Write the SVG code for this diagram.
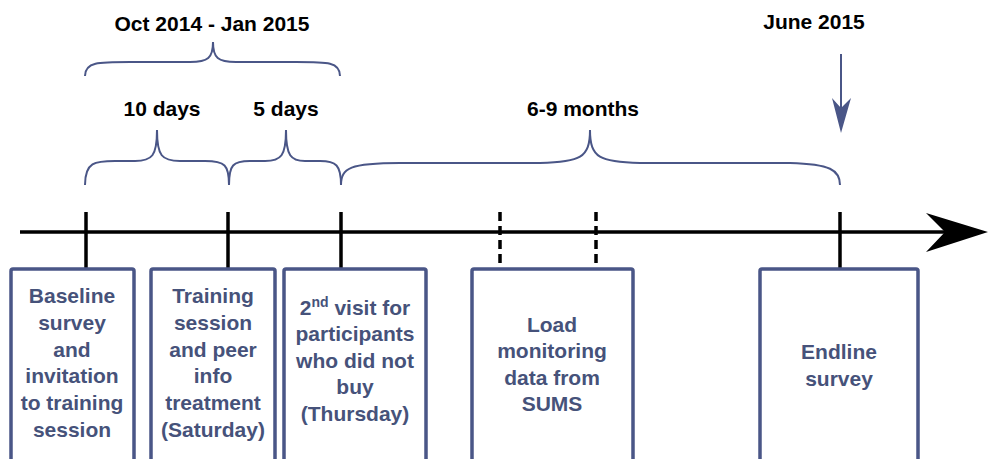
<svg xmlns="http://www.w3.org/2000/svg" width="988" height="459" viewBox="0 0 988 459">
  <style>
    .lbl { font-family: "Liberation Sans", Arial, sans-serif; font-weight: bold; font-size: 21px; fill: #000; text-anchor: middle; }
    .txt { font-family: "Liberation Sans", Arial, sans-serif; font-weight: bold; font-size: 21px; fill: #46527a; text-anchor: middle; }
    .box { fill: #fff; stroke: #4a5687; stroke-width: 3.5; }
    .brace { fill: none; stroke: #4a5687; stroke-width: 2; }
    .tick { stroke: #000; stroke-width: 3.5; }
    .dash { stroke: #000; stroke-width: 3.5; stroke-dasharray: 9 5; }
  </style>
  <rect width="988" height="459" fill="#fff"/>

  <!-- period labels -->
  <g id="labels">
    <text class="lbl" x="212" y="31">Oct 2014 - Jan 2015</text>
    <text class="lbl" x="162" y="116">10 days</text>
    <text class="lbl" x="286" y="116">5 days</text>
    <text class="lbl" x="583" y="116">6-9 months</text>
    <text class="lbl" x="814" y="29">June 2015</text>
  </g>

  <!-- braces, time axis, ticks and arrow -->
  <g id="connectors">
    <path class="brace" d="M85 76 C85 62 98 62 130 62 L190 62 C208 62 213 58 213 42 C213 58 218 62 236 62 L296 62 C328 62 340 62 340 76"/>
    <path class="brace" d="M85 185 C85 162 95 161 115 161 L135 161 C152 161 157 156 157 130 C157 156 162 161 180 161 L205 161 C225 161 229 165 229 185"/>
    <path class="brace" d="M229 185 C229 165 233 161 250 161 L265 161 C281 161 286 156 286 130 C286 156 291 161 305 161 L320 161 C336 161 341 165 341 185"/>
    <path class="brace" d="M341 185 C341 168 350 163 400 163 L540 163 C580 162 590 158 590 130 C590 158 600 162 640 163 L790 163 C830 164 840 170 840 185"/>

    <line x1="20" y1="232" x2="950" y2="232" stroke="#000" stroke-width="3.5"/>
    <path d="M988 232 L926 213 L945 232 L926 252 Z" fill="#000"/>

    <line class="tick" x1="86" y1="212" x2="86" y2="269"/>
    <line class="tick" x1="228" y1="212" x2="228" y2="269"/>
    <line class="tick" x1="341" y1="212" x2="341" y2="269"/>
    <line class="tick" x1="840" y1="212" x2="840" y2="269"/>
    <line class="dash" x1="500" y1="212" x2="500" y2="269"/>
    <line class="dash" x1="596" y1="212" x2="596" y2="269"/>

    <line x1="841" y1="54" x2="841" y2="108" stroke="#4a5687" stroke-width="2"/>
    <path d="M841 133 L832 98 L841 108 L851 98 Z" fill="#4a5687"/>
  </g>

  <g id="baseline">
    <rect class="box" x="11" y="269" width="123" height="200" rx="2"/>
    <text class="txt" x="72" y="303">Baseline</text>
    <text class="txt" x="72" y="330">survey</text>
    <text class="txt" x="72" y="357">and</text>
    <text class="txt" x="72" y="383">invitation</text>
    <text class="txt" x="72" y="410">to training</text>
    <text class="txt" x="72" y="437">session</text>
  </g>

  <g id="training">
    <rect class="box" x="151" y="269" width="124" height="200" rx="2"/>
    <text class="txt" x="213" y="303">Training</text>
    <text class="txt" x="213" y="330">session</text>
    <text class="txt" x="213" y="357">and peer</text>
    <text class="txt" x="213" y="383">info</text>
    <text class="txt" x="213" y="410">treatment</text>
    <text class="txt" x="213" y="437">(Saturday)</text>
  </g>

  <g id="second-visit">
    <rect class="box" x="284" y="269" width="142" height="200" rx="2"/>
    <text class="txt" x="355" y="315">2<tspan font-size="14" dy="-8">nd</tspan><tspan dy="8"> visit for</tspan></text>
    <text class="txt" x="355" y="341">participants</text>
    <text class="txt" x="355" y="368">who did not</text>
    <text class="txt" x="355" y="394">buy</text>
    <text class="txt" x="355" y="421">(Thursday)</text>
  </g>

  <g id="monitoring">
    <rect class="box" x="472" y="269" width="161" height="200" rx="2"/>
    <text class="txt" x="552" y="332">Load</text>
    <text class="txt" x="552" y="358">monitoring</text>
    <text class="txt" x="552" y="385">data from</text>
    <text class="txt" x="552" y="411">SUMS</text>
  </g>

  <g id="endline">
    <rect class="box" x="760" y="269" width="158" height="200" rx="2"/>
    <text class="txt" x="839" y="359">Endline</text>
    <text class="txt" x="839" y="386">survey</text>
  </g>
</svg>
